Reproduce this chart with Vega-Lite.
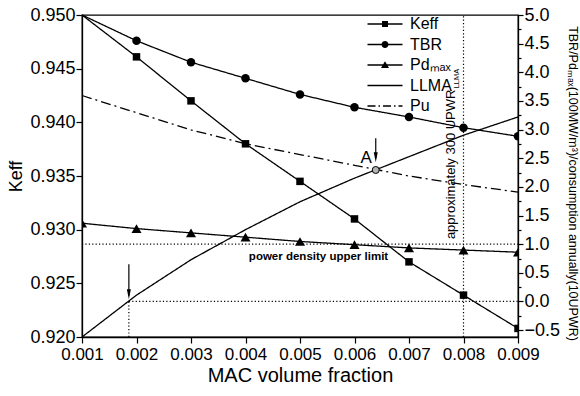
{
  "$schema": "https://vega.github.io/schema/vega-lite/v6.json",
  "width": 436,
  "height": 322,
  "autosize": {"type": "none"},
  "padding": {"left": 82, "top": 15, "right": 62, "bottom": 59},
  "config": {
    "font": "Liberation Sans",
    "view": {"stroke": "black", "strokeWidth": 1.3},
    "axis": {"domainColor": "black", "tickColor": "black", "labelColor": "black", "titleColor": "black", "grid": false, "domainWidth": 1.3, "tickWidth": 1.2, "labelFont": "Liberation Sans", "titleFont": "Liberation Sans", "titleFontWeight": "normal", "labelFlush": false, "labelOverlap": false, "labelBound": false}
  },
  "datasets": {
    "series": [
      {"series": "Keff", "x": 0.001, "y": 0.9500}, {"series": "Keff", "x": 0.002, "y": 0.9461}, {"series": "Keff", "x": 0.003, "y": 0.9420}, {"series": "Keff", "x": 0.004, "y": 0.9380}, {"series": "Keff", "x": 0.005, "y": 0.9345}, {"series": "Keff", "x": 0.006, "y": 0.9310}, {"series": "Keff", "x": 0.007, "y": 0.9270}, {"series": "Keff", "x": 0.008, "y": 0.9239}, {"series": "Keff", "x": 0.009, "y": 0.9208},
      {"series": "TBR", "x": 0.001, "y": 0.9500}, {"series": "TBR", "x": 0.002, "y": 0.9476}, {"series": "TBR", "x": 0.003, "y": 0.9456}, {"series": "TBR", "x": 0.004, "y": 0.9441}, {"series": "TBR", "x": 0.005, "y": 0.9426}, {"series": "TBR", "x": 0.006, "y": 0.9414}, {"series": "TBR", "x": 0.007, "y": 0.9405}, {"series": "TBR", "x": 0.008, "y": 0.9395}, {"series": "TBR", "x": 0.009, "y": 0.9387},
      {"series": "Pd", "x": 0.001, "y": 0.9306}, {"series": "Pd", "x": 0.002, "y": 0.9301}, {"series": "Pd", "x": 0.003, "y": 0.9297}, {"series": "Pd", "x": 0.004, "y": 0.9293}, {"series": "Pd", "x": 0.005, "y": 0.9289}, {"series": "Pd", "x": 0.006, "y": 0.9286}, {"series": "Pd", "x": 0.007, "y": 0.9283}, {"series": "Pd", "x": 0.008, "y": 0.9281}, {"series": "Pd", "x": 0.009, "y": 0.9279},
      {"series": "LLMA", "x": 0.001, "y": 0.9200}, {"series": "LLMA", "x": 0.002, "y": 0.9239}, {"series": "LLMA", "x": 0.003, "y": 0.9272}, {"series": "LLMA", "x": 0.004, "y": 0.9300}, {"series": "LLMA", "x": 0.005, "y": 0.9326}, {"series": "LLMA", "x": 0.006, "y": 0.9348}, {"series": "LLMA", "x": 0.007, "y": 0.9368}, {"series": "LLMA", "x": 0.008, "y": 0.9388}, {"series": "LLMA", "x": 0.009, "y": 0.9405},
      {"series": "Pu", "x": 0.001, "y": 0.9425}, {"series": "Pu", "x": 0.002, "y": 0.9409}, {"series": "Pu", "x": 0.003, "y": 0.9393}, {"series": "Pu", "x": 0.004, "y": 0.9380}, {"series": "Pu", "x": 0.005, "y": 0.9370}, {"series": "Pu", "x": 0.006, "y": 0.9360}, {"series": "Pu", "x": 0.007, "y": 0.9350}, {"series": "Pu", "x": 0.008, "y": 0.9342}, {"series": "Pu", "x": 0.009, "y": 0.9335}
    ],
    "pointA": [{"label": "A", "x": 0.00639, "y": 0.93556, "tx": 0.00632, "ty": 0.93618}],
    "legendItems": [{"name": "Keff"}, {"name": "TBR"}, {"name": "Pdₘₐₓ"}, {"name": "LLMA"}, {"name": "Pu"}],
    "dotted": [
      {"x": 0.001, "x2": 0.009, "y": 0.92865, "y2": 0.92865},
      {"x": 0.00186, "x2": 0.009, "y": 0.92331, "y2": 0.92331},
      {"x": 0.00186, "x2": 0.00186, "y": 0.92, "y2": 0.92331},
      {"x": 0.008, "x2": 0.008, "y": 0.92, "y2": 0.95}
    ],
    "arrows": [
      {"x": 0.00186, "y": 0.92678, "y2": 0.92384, "tip": 0.92352},
      {"x": 0.00639, "y": 0.93852, "y2": 0.93666, "tip": 0.93628}
    ],
    "notes": [
      {"text": "power density upper limit", "x": 0.00534, "y": 0.92747}
    ],
    "vnotes": [
      {"text": "approximately 300 UPWR", "x": 0.008, "y": 0.92912},
      {"text": "LLMA", "x": 0.008, "y": 0.94317}
    ],
    "rightAxis": [{"v": 0}]
  },
  "layer": [
    {
      "layer": [
        {
          "data": {"name": "series"},
          "mark": {"type": "line", "color": "black", "strokeWidth": 1.3},
          "encoding": {
            "x": {"field": "x", "type": "quantitative", "scale": {"domain": [0.001, 0.009], "nice": false, "zero": false},
              "axis": {"title": "MAC volume fraction", "titleFontSize": 20, "titlePadding": 3, "labelFontSize": 17, "labelPadding": 3, "labelOverlap": false, "labelFlush": false,
                "values": [0.001, 0.0015, 0.002, 0.0025, 0.003, 0.0035, 0.004, 0.0045, 0.005, 0.0055, 0.006, 0.0065, 0.007, 0.0075, 0.008, 0.0085, 0.009],
                "labelExpr": "abs(datum.value*1000-round(datum.value*1000))<0.001 ? format(datum.value,'.3f') : ''",
                "tickSize": {"condition": {"test": "abs(datum.value*1000-round(datum.value*1000))<0.001", "value": 6}, "value": 3}}},
            "y": {"field": "y", "type": "quantitative", "scale": {"domain": [0.92, 0.95], "nice": false, "zero": false},
              "axis": {"title": "Keff", "titleFontSize": 18, "titlePadding": 4, "labelFontSize": 18, "labelPadding": 1, "labelOverlap": false, "labelFlush": false,
                "values": [0.92, 0.9225, 0.925, 0.9275, 0.93, 0.9325, 0.935, 0.9375, 0.94, 0.9425, 0.945, 0.9475, 0.95],
                "labelExpr": "abs(datum.value*200-round(datum.value*200))<0.001 ? format(datum.value,'.3f') : ''",
                "tickSize": {"condition": {"test": "abs(datum.value*200-round(datum.value*200))<0.001", "value": 6}, "value": 3}}},
            "detail": {"field": "series"},
            "strokeDash": {"field": "series", "type": "nominal", "scale": {"domain": ["Keff", "TBR", "Pd", "LLMA", "Pu"], "range": [[1, 0], [1, 0], [1, 0], [1, 0], [10, 4, 2, 4]]}, "legend": null}
          }
        },
        {
          "data": {"name": "series"},
          "transform": [{"filter": "datum.series == 'Keff' && datum.x > 0.0015"}],
          "mark": {"type": "point", "shape": "square", "filled": true, "color": "black", "size": 56, "opacity": 1, "clip": true},
          "encoding": {"x": {"field": "x", "type": "quantitative"}, "y": {"field": "y", "type": "quantitative"}}
        },
        {
          "data": {"name": "series"},
          "transform": [{"filter": "datum.series == 'TBR' && datum.x > 0.0015"}],
          "mark": {"type": "point", "shape": "circle", "filled": true, "color": "black", "size": 72, "opacity": 1, "clip": true},
          "encoding": {"x": {"field": "x", "type": "quantitative"}, "y": {"field": "y", "type": "quantitative"}}
        },
        {
          "data": {"name": "series"},
          "transform": [{"filter": "datum.series == 'Pd'"}],
          "mark": {"type": "point", "shape": "triangle-up", "filled": true, "color": "black", "size": 100, "opacity": 1, "clip": true},
          "encoding": {"x": {"field": "x", "type": "quantitative"}, "y": {"field": "y", "type": "quantitative"}}
        },
        {
          "data": {"name": "dotted"},
          "mark": {"type": "rule", "color": "black", "strokeWidth": 1.2, "strokeDash": [1.2, 2.2]},
          "encoding": {"x": {"field": "x", "type": "quantitative"}, "x2": {"field": "x2"}, "y": {"field": "y", "type": "quantitative"}, "y2": {"field": "y2"}}
        },
        {
          "data": {"name": "arrows"},
          "mark": {"type": "rule", "color": "black", "strokeWidth": 1.2},
          "encoding": {"x": {"field": "x", "type": "quantitative"}, "y": {"field": "y", "type": "quantitative"}, "y2": {"field": "y2"}}
        },
        {
          "data": {"name": "arrows"},
          "mark": {"type": "point", "shape": "M0,0L-0.4,-2L0.4,-2Z", "size": 100, "filled": true, "color": "black", "opacity": 1},
          "encoding": {"x": {"field": "x", "type": "quantitative"}, "y": {"field": "tip", "type": "quantitative"}}
        },
        {
          "data": {"name": "notes"},
          "mark": {"type": "text", "fontSize": 11.5, "fontWeight": "bold", "align": "center", "baseline": "middle", "color": "black"},
          "encoding": {"x": {"field": "x", "type": "quantitative"}, "y": {"field": "y", "type": "quantitative"}, "text": {"field": "text"}}
        },
        {
          "data": {"name": "vnotes"},
          "transform": [{"filter": "datum.text != 'LLMA'"}],
          "mark": {"type": "text", "angle": 270, "align": "left", "baseline": "alphabetic", "color": "black", "fontSize": 13, "dy": -9},
          "encoding": {"x": {"field": "x", "type": "quantitative"}, "y": {"field": "y", "type": "quantitative"}, "text": {"field": "text"}}
        },
        {
          "data": {"name": "vnotes"},
          "transform": [{"filter": "datum.text == 'LLMA'"}],
          "mark": {"type": "text", "angle": 270, "align": "left", "baseline": "alphabetic", "color": "black", "fontSize": 7.5, "dy": -5},
          "encoding": {"x": {"field": "x", "type": "quantitative"}, "y": {"field": "y", "type": "quantitative"}, "text": {"field": "text"}}
        },
        {
          "data": {"name": "pointA"},
          "mark": {"type": "point", "shape": "circle", "filled": true, "fill": "#b4b4b4", "stroke": "black", "strokeWidth": 1, "size": 49, "opacity": 1},
          "encoding": {"x": {"field": "x", "type": "quantitative"}, "y": {"field": "y", "type": "quantitative"}}
        },
        {
          "data": {"name": "pointA"},
          "mark": {"type": "text", "fontSize": 17, "align": "right", "baseline": "alphabetic", "color": "black"},
          "encoding": {"x": {"field": "tx", "type": "quantitative"}, "y": {"field": "ty", "type": "quantitative"}, "text": {"field": "label"}}
        },
        {
          "data": {"name": "legendItems"},
          "mark": {"type": "point", "filled": true, "color": "black", "opacity": 0},
          "encoding": {
            "shape": {"field": "name", "type": "nominal",
              "scale": {"domain": ["Keff", "TBR", "Pdₘₐₓ", "LLMA", "Pu"],
                "range": [
                  "M-3.5,-0.13H3.5V0.13H-3.5ZM-0.6,-0.6H0.6V0.6H-0.6Z",
                  "M-3.5,-0.13H3.5V0.13H-3.5ZM0.7,0A0.7,0.7,0,1,1,-0.7,0A0.7,0.7,0,1,1,0.7,0Z",
                  "M-3.5,-0.13H3.5V0.13H-3.5ZM0,-0.75L0.8,0.6H-0.8Z",
                  "M-3.5,-0.13H3.5V0.13H-3.5Z",
                  "M-3.5,-0.13H-1.9V0.13H-3.5ZM-1.3,-0.13H-1.0V0.13H-1.3ZM-0.4,-0.13H1.2V0.13H-0.4ZM1.8,-0.13H2.1V0.13H1.8ZM2.7,-0.13H3.5V0.13H2.7Z"
                ]},
              "legend": {"title": null, "orient": "none", "legendX": 295, "legendY": 1, "padding": 0, "labelFontSize": 16, "labelFont": "Liberation Sans", "labelColor": "black", "symbolSize": 100, "labelOffset": 17, "rowPadding": 4.5, "symbolOpacity": 1, "symbolStrokeWidth": 0, "symbolFillColor": "black"}}
          }
        }
      ]
    },
    {
      "data": {"name": "rightAxis"},
      "mark": {"type": "rule", "opacity": 0},
      "encoding": {
        "y": {"field": "v", "type": "quantitative", "scale": {"domain": [-0.62, 5.0], "nice": false, "zero": false},
          "axis": {"orient": "right", "title": "TBR/Pdₘₐₓ(100MW/m³)/consumption annually(10UPWR)", "titleFontSize": 12.5, "titleLimit": 600, "titlePadding": 6, "titleY": 168, "labelFontSize": 18, "labelPadding": 1, "labelOverlap": false, "labelFlush": false,
            "values": [-0.5, -0.25, 0, 0.25, 0.5, 0.75, 1, 1.25, 1.5, 1.75, 2, 2.25, 2.5, 2.75, 3, 3.25, 3.5, 3.75, 4, 4.25, 4.5, 4.75, 5],
            "labelExpr": "abs(datum.value*2-round(datum.value*2))<0.001 ? format(datum.value,'.1f') : ''",
            "tickSize": {"condition": {"test": "abs(datum.value*2-round(datum.value*2))<0.001", "value": 5}, "value": 3}}}
      }
    }
  ],
  "resolve": {"scale": {"y": "independent"}}
}
